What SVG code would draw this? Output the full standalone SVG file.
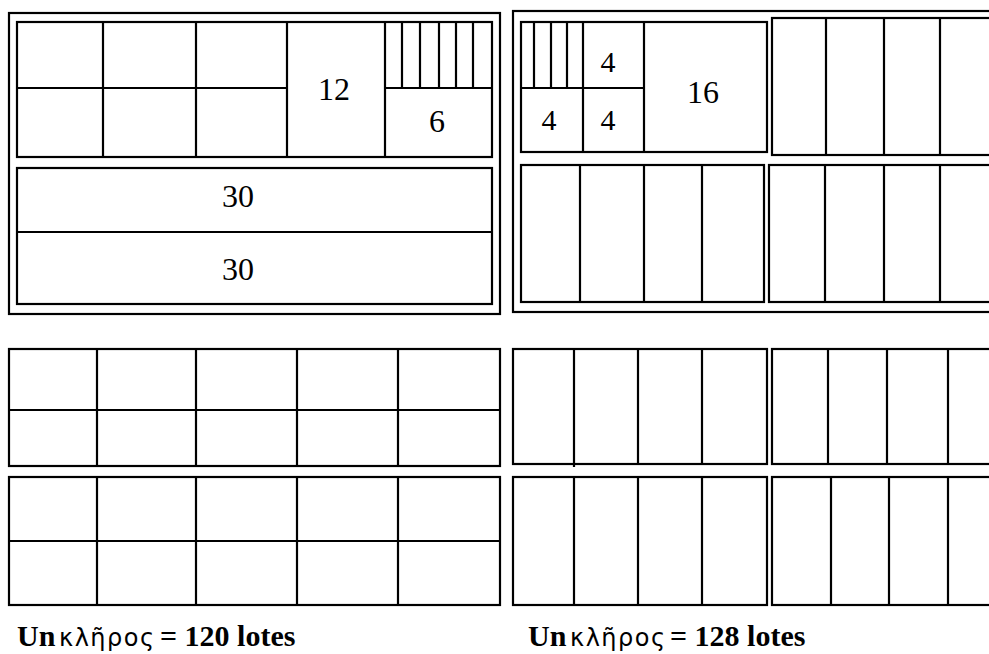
<svg xmlns="http://www.w3.org/2000/svg" width="989" height="654" viewBox="0 0 989 654">
<style>
.f{fill:none;stroke:#000;stroke-width:2.2}
.l{stroke:#000;stroke-width:2.2;fill:none}
.n{font-family:"Liberation Serif","Times New Roman",serif;fill:#000;text-anchor:middle}
.cap{font-family:"Liberation Serif","Times New Roman",serif;font-weight:bold;font-size:30px;fill:#000}
.gr{font-family:"DejaVu Sans",sans-serif;font-weight:normal;font-size:24px;letter-spacing:1.5px}
</style>
<rect width="989" height="654" fill="#fff"/>

<g id="kleros-left-top">
  <rect class="f" x="9" y="13" width="491" height="301"/>
  <g id="left-top-block">
    <rect class="f" x="17" y="22" width="475" height="135"/>
    <path class="l" d="M103 22V157M196 22V157M287 22V157M385 22V157M17 88H287M385 88H492M402 22V88M420 22V88M439 22V88M456 22V88M473 22V88"/>
    <text class="n" x="334" y="100" font-size="32">12</text>
    <text class="n" x="437" y="132" font-size="32">6</text>
  </g>
  <g id="left-30-block">
    <rect class="f" x="17" y="168" width="475" height="136"/>
    <path class="l" d="M17 232H492"/>
    <text class="n" x="238" y="207" font-size="32">30</text>
    <text class="n" x="238" y="280" font-size="32">30</text>
  </g>
</g>

<g id="kleros-right-top">
  <rect class="f" x="513" y="11" width="500" height="301"/>
  <g id="right-top-left-block">
    <rect class="f" x="521" y="22" width="246" height="130"/>
    <path class="l" d="M583 22V152M644 22V152M521 88H644M534 22V88M551 22V88M567 22V88"/>
    <text class="n" x="608" y="72" font-size="30">4</text>
    <text class="n" x="549" y="130" font-size="30">4</text>
    <text class="n" x="608" y="130" font-size="30">4</text>
    <text class="n" x="703" y="103" font-size="32">16</text>
  </g>
  <g id="right-top-right-block">
    <rect class="f" x="772" y="18" width="240" height="137"/>
    <path class="l" d="M826 18V155M884 18V155M940 18V155"/>
  </g>
  <g id="right-mid-left-block">
    <rect class="f" x="521" y="165" width="243" height="137"/>
    <path class="l" d="M580 165V302M644 165V302M702 165V302"/>
  </g>
  <g id="right-mid-right-block">
    <rect class="f" x="769" y="165" width="240" height="137"/>
    <path class="l" d="M825 165V302M884 165V302M940 165V302"/>
  </g>
</g>

<g id="left-bottom">
  <g id="left-bottom-row1">
    <rect class="f" x="9" y="349" width="491" height="117"/>
    <path class="l" d="M9 410H500M97 349V466M196 349V466M297 349V466M398 349V466"/>
  </g>
  <g id="left-bottom-row2">
    <rect class="f" x="9" y="477" width="491" height="128"/>
    <path class="l" d="M9 541H500M97 477V605M196 477V605M297 477V605M398 477V605"/>
  </g>
</g>

<g id="right-bottom">
  <g id="right-bottom-a">
    <rect class="f" x="513" y="349" width="254" height="115"/>
    <path class="l" d="M574 349V467M638 349V464M702 349V464"/>
  </g>
  <g id="right-bottom-b">
    <rect class="f" x="772" y="349" width="240" height="115"/>
    <path class="l" d="M828 349V464M887 349V464M948 349V464"/>
  </g>
  <g id="right-bottom-c">
    <rect class="f" x="513" y="477" width="254" height="128"/>
    <path class="l" d="M574 477V605M638 477V605M702 477V605"/>
  </g>
  <g id="right-bottom-d">
    <rect class="f" x="772" y="477" width="240" height="128"/>
    <path class="l" d="M831 477V605M889 477V605M948 477V605"/>
  </g>
</g>

<g id="captions">
  <text class="cap" y="646"><tspan x="17">Un</tspan><tspan class="gr" x="59">κλῆρος</tspan><tspan x="160">= 120 lotes</tspan></text>
  <text class="cap" y="646"><tspan x="528">Un</tspan><tspan class="gr" x="570">κλῆρος</tspan><tspan x="670">= 128 lotes</tspan></text>
</g>
</svg>
